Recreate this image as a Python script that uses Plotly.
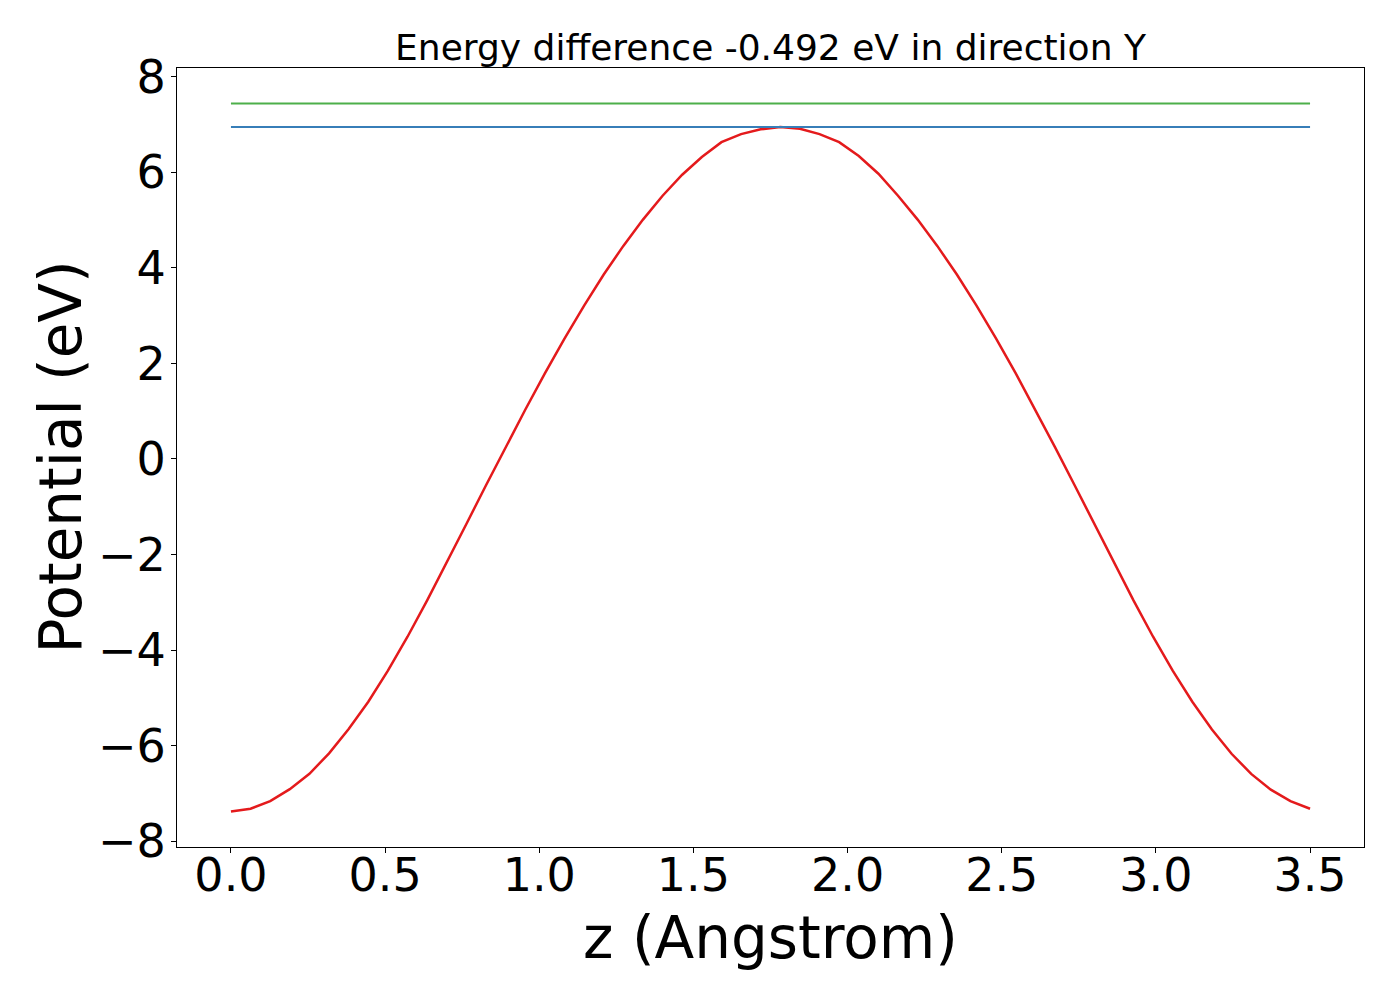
import plotly.graph_objects as go

# Sample positions along z (Angstrom)
z = [0.0, 0.0636, 0.1273, 0.1909, 0.2545, 0.3182, 0.3818, 0.4455, 0.5091, 0.5727,
     0.6364, 0.7, 0.7636, 0.8273, 0.8909, 0.9545, 1.0182, 1.0818, 1.1455, 1.2091,
     1.2727, 1.3364, 1.4, 1.4636, 1.5273, 1.5909, 1.6545, 1.7182, 1.7818, 1.8455,
     1.9091, 1.9727, 2.0364, 2.1, 2.1636, 2.2273, 2.2909, 2.3545, 2.4182, 2.4818,
     2.5455, 2.6091, 2.6727, 2.7364, 2.8, 2.8636, 2.9273, 2.9909, 3.0545, 3.1182,
     3.1818, 3.2455, 3.3091, 3.3727, 3.4364, 3.5]

# Potential (eV)
potential = [-7.38, -7.32, -7.16, -6.91, -6.59, -6.16, -5.65, -5.08, -4.43, -3.72,
             -2.96, -2.17, -1.36, -0.55, 0.25, 1.03, 1.79, 2.52, 3.21, 3.86,
             4.46, 5.01, 5.51, 5.95, 6.32, 6.63, 6.80, 6.90, 6.95, 6.91,
             6.80, 6.63, 6.34, 5.97, 5.51, 5.01, 4.46, 3.86, 3.21, 2.52,
             1.79, 1.03, 0.25, -0.55, -1.36, -2.17, -2.96, -3.72, -4.43, -5.08,
             -5.66, -6.17, -6.59, -6.92, -7.16, -7.32]

# Horizontal reference levels
level_x = [0.0, 3.5]
level_blue = [6.95, 6.95]
level_green = [7.442, 7.442]

title_text = "Energy difference -0.492 eV in direction Y"
x_label = "z (Angstrom)"
y_label = "Potential (eV)"

x_ticks = [0.0, 0.5, 1.0, 1.5, 2.0, 2.5, 3.0, 3.5]
x_tick_text = ["0.0", "0.5", "1.0", "1.5", "2.0", "2.5", "3.0", "3.5"]
y_ticks = [-8, -6, -4, -2, 0, 2, 4, 6, 8]
y_tick_text = ["\u22128", "\u22126", "\u22124", "\u22122", "0", "2", "4", "6", "8"]

RED = "#e41a1c"
BLUE = "#377eb8"
GREEN = "#4daf4a"

fig = go.Figure()
fig.add_trace(go.Scatter(x=z, y=potential, mode="lines",
                         line=dict(color=RED, width=2.5), showlegend=False))
fig.add_trace(go.Scatter(x=level_x, y=level_blue, mode="lines",
                         line=dict(color=BLUE, width=2.0), showlegend=False))
fig.add_trace(go.Scatter(x=level_x, y=level_green, mode="lines",
                         line=dict(color=GREEN, width=2.0), showlegend=False))

all_y = potential + level_blue + level_green
ymin, ymax = min(all_y), max(all_y)
yspan = ymax - ymin
xmin, xmax = min(z), max(z)
xspan = xmax - xmin

font_family = "DejaVu Sans"
ML, MR, MT, MB = 169, 44, 60, 161
W, H = 1400, 1000
plot_w = W - ML - MR
plot_h = H - MT - MB

fig.update_layout(
    width=W, height=H,
    paper_bgcolor="white", plot_bgcolor="white",
    margin=dict(l=ML, r=MR, t=MT, b=MB),
    font=dict(family=font_family, color="black"),
    title=dict(text=title_text, x=0.5, xref="paper", xanchor="center",
               y=1.0 - 39 / H, yanchor="middle",
               font=dict(size=36, family=font_family, color="black")),
    xaxis=dict(
        range=[xmin - 0.05 * xspan, xmax + 0.05 * xspan],
        tickvals=x_ticks, ticktext=x_tick_text,
        ticks="outside", ticklen=5, tickwidth=1, tickcolor="black",
        ticklabelstandoff=-17,
        tickfont=dict(size=46, family=font_family, color="black"),
        showline=True, linecolor="black", linewidth=1, mirror=True,
        showgrid=False, zeroline=False,
    ),
    yaxis=dict(
        range=[ymin - 0.05 * yspan, ymax + 0.05 * yspan],
        tickvals=y_ticks, ticktext=y_tick_text,
        ticks="outside", ticklen=5, tickwidth=1, tickcolor="black",
        ticklabelstandoff=-4,
        tickfont=dict(size=46, family=font_family, color="black"),
        showline=True, linecolor="black", linewidth=1, mirror=True,
        showgrid=False, zeroline=False,
    ),
    annotations=[
        dict(text=x_label, xref="paper", yref="paper", x=0.5, y=-91 / plot_h,
             xanchor="center", yanchor="middle", showarrow=False,
             font=dict(size=58, family=font_family, color="black")),
        dict(text=y_label, xref="paper", yref="paper", x=(52 - ML) / plot_w, y=0.5,
             xanchor="center", yanchor="middle", showarrow=False, textangle=-90,
             font=dict(size=58, family=font_family, color="black")),
    ],
)

fig.write_html("out.html")
